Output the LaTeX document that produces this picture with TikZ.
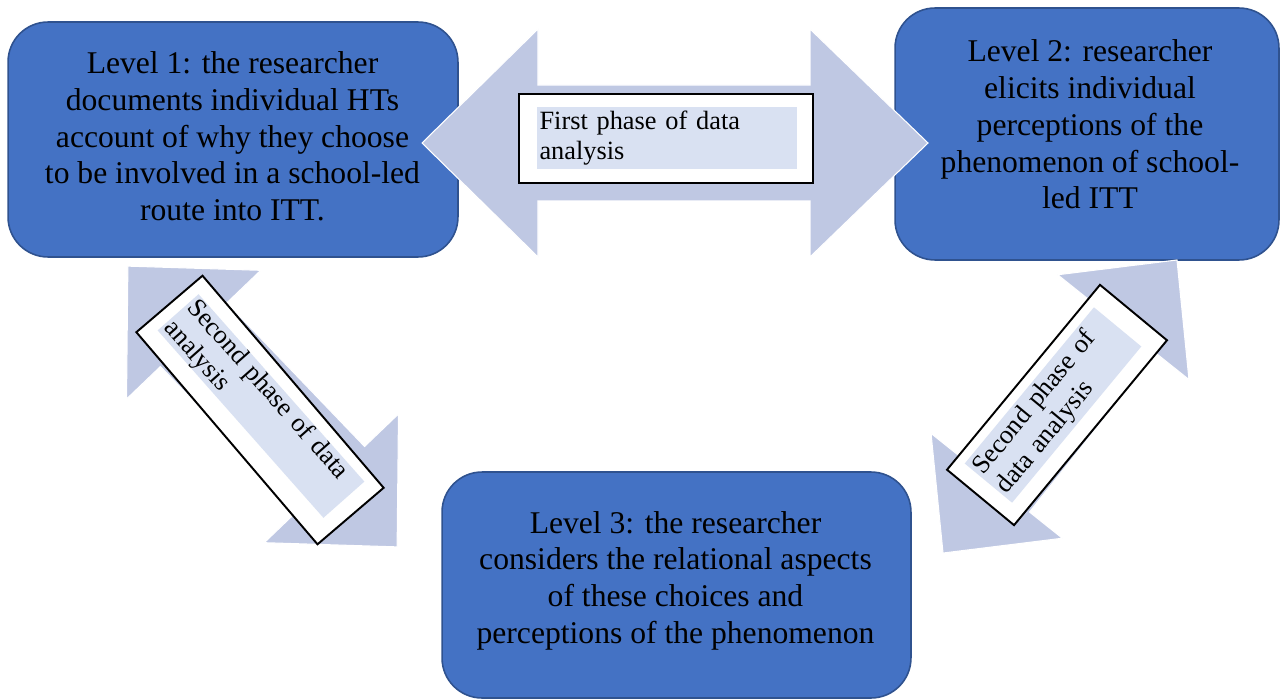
\documentclass[tikz,border=0pt]{standalone}
\usepackage{fontspec}
\setmainfont{Liberation Serif}
\usetikzlibrary{positioning}
\definecolor{boxblue}{HTML}{4472C4}
\definecolor{boxline}{HTML}{2F528F}
\definecolor{arrowblue}{RGB}{191,200,227}
\definecolor{phasefill}{HTML}{D9E1F2}

\begin{document}
\begin{tikzpicture}[x=0.02cm,y=-0.02cm,
	lvlbox/.style={rectangle, rounded corners=0.8cm, fill=boxblue, draw=boxline, line width=0.9pt},
	lvltext/.style={align=center, inner sep=0pt, font=\fontsize{18}{20.9}\selectfont},
	phasebox/.style={rectangle, fill=white, draw=black, line width=1.1pt, inner sep=0pt},
	phasetext/.style={fill=phasefill, align=left, inner xsep=1.5pt, inner ysep=0pt, font=\fontsize{15}{17.3}\selectfont},
	bigarrow/.style={fill=arrowblue, draw=white, line width=0.6pt}]
	\useasboundingbox (0,0) rectangle (1280,699);

	% the three levels
	\path (233,139.5) node(l1)[lvlbox, minimum width=9cm, minimum height=4.7cm]{}
		(1087,134) node(l2)[lvlbox, minimum width=7.68cm, minimum height=5.04cm]{}
		(676.5,585) node(l3)[lvlbox, minimum width=9.38cm, minimum height=4.52cm]{};
	\node(t1)[lvltext] at (232.5,136.5) {Level 1: the researcher\\documents individual HTs\\account of why they choose\\to be involved in a school-led\\route into ITT.};
	\node(t2)[lvltext] at (1090,124.5) {Level 2: researcher\\elicits individual\\perceptions of the\\phenomenon of school-\\led ITT};
	\node(t3)[lvltext] at (675.5,580.5) {Level 3: the researcher\\considers the relational aspects\\of these choices and\\perceptions of the phenomenon};

	% block arrows
	\draw[bigarrow] (422,143) -- (538,29) -- (538,85) -- (810,85) -- (810,29) -- (928,143)
		-- (810,257) -- (810,201) -- (538,201) -- (538,257) -- cycle;
	\begin{scope}[shift={(262.5,406.5)}, rotate=-46.2]
		\draw[bigarrow] (-194.5,0) -- (-99.5,93) -- (-99.5,46) -- (99.5,46) -- (99.5,93) -- (194.5,0)
			-- (99.5,-93) -- (99.5,-46) -- (-99.5,-46) -- (-99.5,-93) -- cycle;
	\end{scope}
	\begin{scope}[shift={(1060,406.5)}, rotate=51.4]
		\draw[bigarrow] (-187.5,0) -- (-101.5,84) -- (-101.5,42) -- (101.5,42) -- (101.5,84) -- (187.5,0)
			-- (101.5,-84) -- (101.5,-42) -- (-101.5,-42) -- (-101.5,-84) -- cycle;
	\end{scope}

	% phase labels
	\node(p1)[phasebox, minimum width=5.88cm, minimum height=1.78cm] at (666,138.5) {};
	\node(q1)[phasetext, text width=5.1cm, minimum height=1.26cm] at (667,138) {First phase of data\\analysis};
	\node(p2)[phasebox, rotate=-49.5, minimum width=5.58cm, minimum height=1.74cm] at (260,410) {};
	\node(q2)[phasetext, rotate=-48.5, text width=4.9cm, minimum height=1.08cm] at (261,406) {Second phase of data\\analysis};
	\node(p3)[phasebox, rotate=50.4, minimum width=4.8cm, minimum height=1.74cm] at (1057,405) {};
	\node(q3)[phasetext, rotate=50.4, text width=3.95cm, minimum height=1.23cm] at (1053,405) {Second phase of\\data analysis};
\end{tikzpicture}
\end{document}
